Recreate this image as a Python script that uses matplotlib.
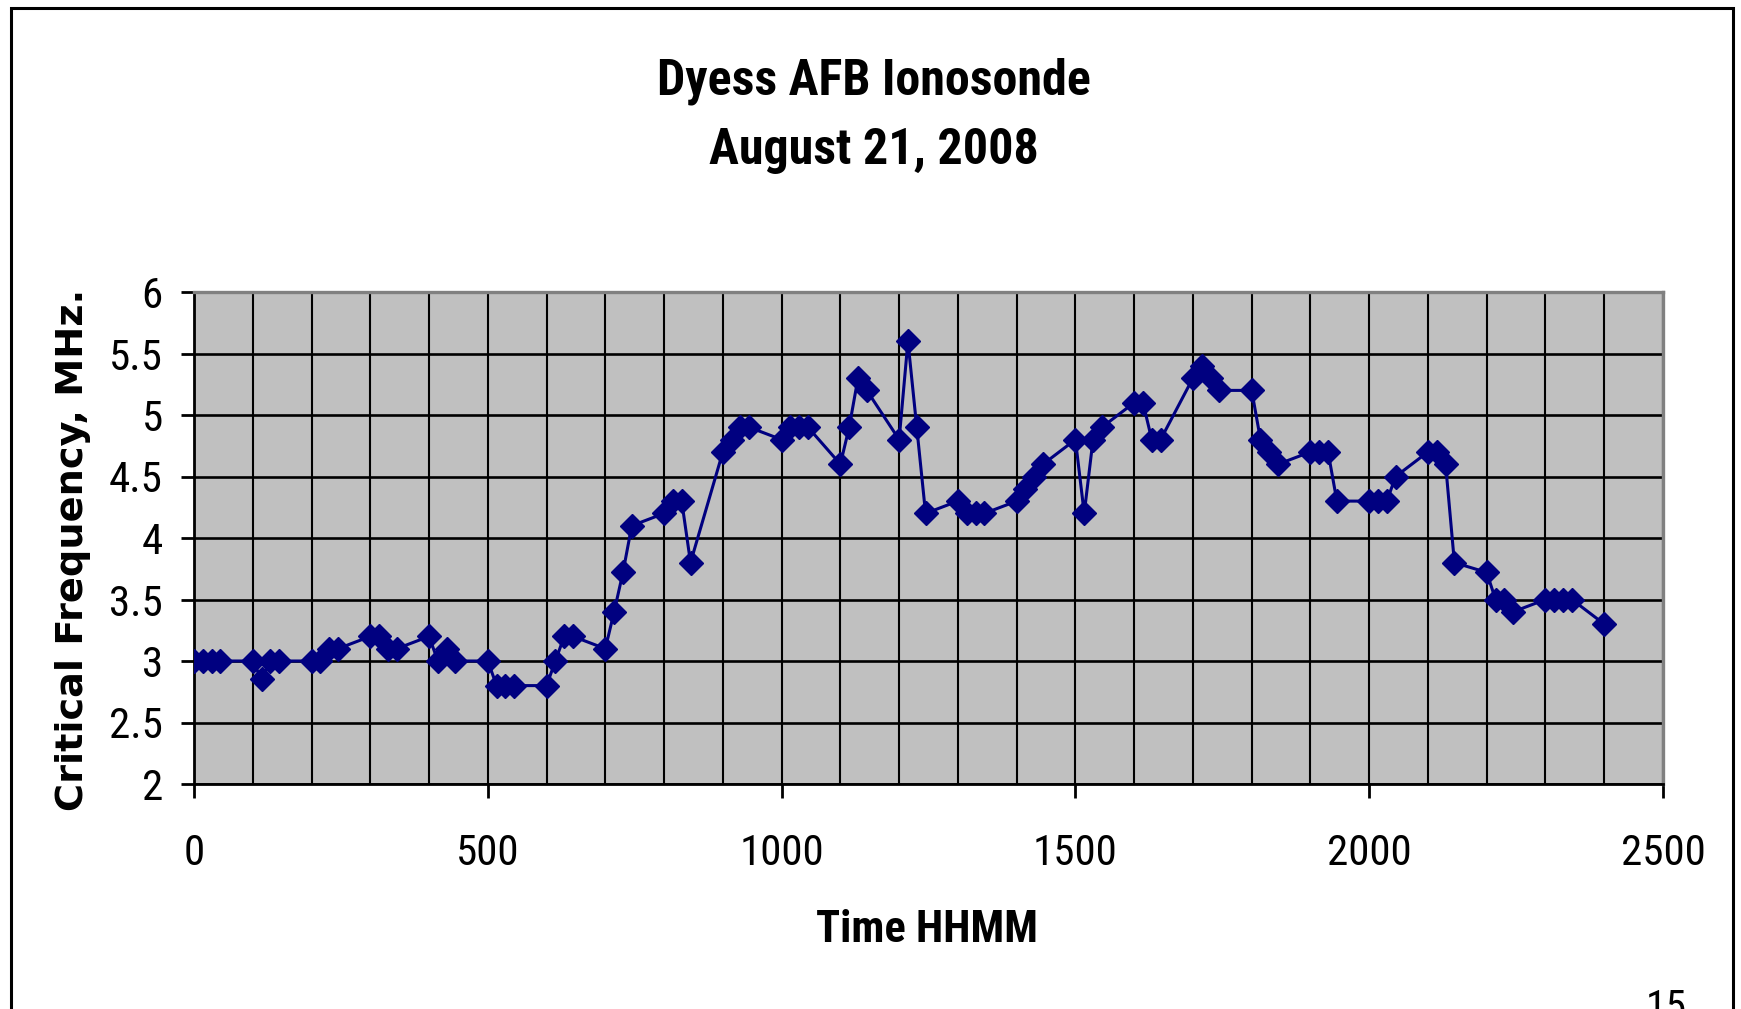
#!/usr/bin/env python3

"""
Dyess AFB ionosonde, critical frequency for August 21, 2008.
"""

import matplotlib
matplotlib.use('Agg')
import matplotlib.pyplot as plt
from matplotlib.patches import Rectangle
from matplotlib.ticker import MultipleLocator, FuncFormatter

title_lines = ["Dyess AFB Ionosonde", "August 21, 2008"]
x_label = "Time HHMM"
y_label = "Critical Frequency, MHz."
page_number = "15"

# sounding times, HHMM
times = [
    0, 15, 30, 45,
    100, 115, 130, 145,
    200, 215, 230, 245,
    300, 315, 330, 345,
    400, 415, 430, 445,
    500, 515, 530, 545,
    600, 615, 630, 645,
    700, 715, 730, 745,
    800, 815, 830, 845,
    900, 915, 930, 945,
    1000, 1015, 1030, 1045,
    1100, 1115, 1130, 1145,
    1200, 1215, 1230, 1245,
    1300, 1315, 1330, 1345,
    1400, 1415, 1430, 1445,
    1500, 1515, 1530, 1545,
    1600, 1615, 1630, 1645,
    1700, 1715, 1730, 1745,
    1800, 1815, 1830, 1845,
    1900, 1915, 1930, 1945,
    2000, 2015, 2030, 2045,
    2100, 2115, 2130, 2145,
    2200, 2215, 2230, 2245,
    2300, 2315, 2330, 2345,
    2400,
]

# critical frequency, MHz
fof2 = [
    3.0, 3.0, 3.0, 3.0,
    3.0, 2.85, 3.0, 3.0,
    3.0, 3.0, 3.1, 3.1,
    3.2, 3.2, 3.1, 3.1,
    3.2, 3.0, 3.1, 3.0,
    3.0, 2.8, 2.8, 2.8,
    2.8, 3.0, 3.2, 3.2,
    3.1, 3.4, 3.72, 4.1,
    4.2, 4.3, 4.3, 3.8,
    4.7, 4.8, 4.9, 4.9,
    4.8, 4.9, 4.9, 4.9,
    4.6, 4.9, 5.3, 5.2,
    4.8, 5.6, 4.9, 4.2,
    4.3, 4.2, 4.2, 4.2,
    4.3, 4.4, 4.5, 4.6,
    4.8, 4.2, 4.8, 4.9,
    5.1, 5.1, 4.8, 4.8,
    5.3, 5.4, 5.3, 5.2,
    5.2, 4.8, 4.7, 4.6,
    4.7, 4.7, 4.7, 4.3,
    4.3, 4.3, 4.3, 4.5,
    4.7, 4.7, 4.6, 3.8,
    3.72, 3.5, 3.5, 3.4,
    3.5, 3.5, 3.5, 3.5,
    3.3,
]

# first installed one wins; the original uses a narrow Arial
NARROW = ['Liberation Sans Narrow', 'DejaVu Sans Condensed',
          'Roboto Condensed', 'Liberation Sans', 'DejaVu Sans']
NAVY = '#000080'


def main():
    fig = plt.figure(figsize=(17.41, 10.09), dpi=100)
    W, H = 1741, 1009

    # plot area in pixels: x 194..1663, y 292..784 from the top
    ax = fig.add_axes([194 / W, 1 - 784 / H, (1663 - 194) / W, (784 - 292) / H])
    ax.set_facecolor('#c0c0c0')

    ax.plot(times, fof2, color=NAVY, linewidth=2.2,
            marker='D', markersize=12.5, markerfacecolor=NAVY,
            markeredgecolor=NAVY, zorder=3)

    ax.set_xlim(0, 2500)
    ax.set_ylim(2, 6)

    ax.xaxis.set_major_locator(MultipleLocator(500))
    ax.xaxis.set_minor_locator(MultipleLocator(100))
    ax.yaxis.set_major_locator(MultipleLocator(0.5))
    ax.yaxis.set_major_formatter(FuncFormatter(lambda v, _: f'{v:g}'))
    ax.xaxis.set_major_formatter(FuncFormatter(lambda v, _: f'{v:g}'))

    ax.grid(which='minor', axis='x', color='black', linewidth=1.5)
    ax.grid(which='major', axis='x', color='black', linewidth=1.5)
    ax.grid(which='major', axis='y', color='black', linewidth=1.9)
    ax.set_axisbelow(True)

    ax.tick_params(axis='x', which='minor', length=0)
    ax.tick_params(axis='x', which='major', direction='out', length=10,
                   width=2, pad=25)
    ax.tick_params(axis='y', which='major', direction='out', length=9.5,
                   width=2, pad=13)
    for lab in ax.get_xticklabels() + ax.get_yticklabels():
        lab.set_family(NARROW)
        lab.set_fontsize(31)

    ax.spines['left'].set_color('black')
    ax.spines['left'].set_linewidth(2)
    ax.spines['bottom'].set_color('black')
    ax.spines['bottom'].set_linewidth(2)
    ax.spines['top'].set_color('#808080')
    ax.spines['top'].set_linewidth(2.4)
    ax.spines['right'].set_color('#808080')
    ax.spines['right'].set_linewidth(2.4)

    # titles and labels
    fig.text(874 / W, 1 - 81 / H, title_lines[0], ha='center', va='center',
             family=NARROW, fontsize=36, fontweight='bold')
    fig.text(874 / W, 1 - 151 / H, title_lines[1], ha='center', va='center',
             family=NARROW, fontsize=36, fontweight='bold')
    fig.text(927 / W, 1 - 930 / H, x_label, ha='center', va='center',
             family=NARROW, fontsize=32, fontweight='bold')
    fig.text(73 / W, 1 - 550 / H, y_label, ha='center', va='center',
             rotation=90, family='DejaVu Sans', fontsize=27.5,
             fontweight='bold')

    # chart frame, bottom edge runs off the page
    fig.patches.append(Rectangle((11 / W, -0.05), (1733 - 11) / W,
                                 0.05 + 1 - 8 / H, transform=fig.transFigure,
                                 fill=False, edgecolor='black', linewidth=2.2))

    # page number, cut off at the bottom like the original slide
    fig.text(1666 / W, 1 - 1020 / H, page_number, ha='center',
             va='baseline', family=NARROW, fontsize=30)

    plt.savefig('out.png', dpi=100)


if __name__ == '__main__':
    main()
